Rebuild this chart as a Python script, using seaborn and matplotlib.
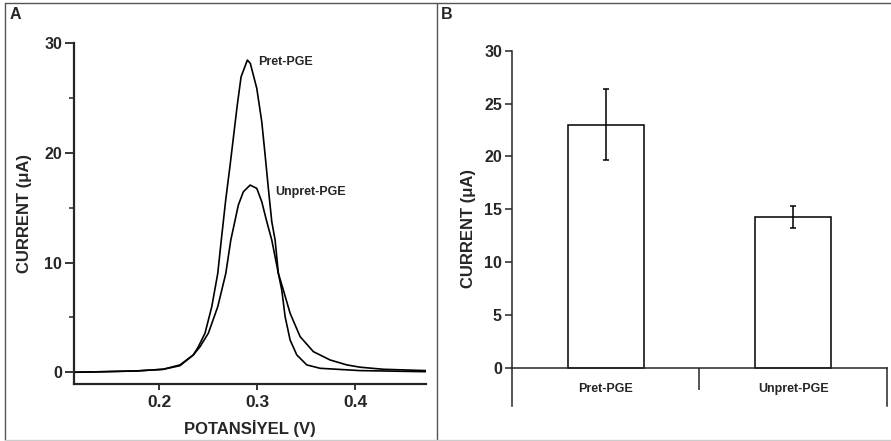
import matplotlib
matplotlib.use("Agg")
import pandas as pd
import seaborn as sns
import matplotlib.pyplot as plt
from matplotlib.lines import Line2D

# Panel A: DPV curves
pret_x = [0.113, 0.143, 0.177, 0.204, 0.2211, 0.2347, 0.2398, 0.2466, 0.2535, 0.2596, 0.2632,
          0.2677, 0.2722, 0.2795, 0.2834, 0.2898, 0.2928, 0.2994, 0.3045, 0.3079, 0.3112, 0.3147,
          0.3181, 0.3214, 0.3249, 0.3283, 0.3334, 0.3402, 0.3504, 0.364, 0.4048, 0.472]
pret_y = [0.0, 0.05, 0.12, 0.27, 0.67, 1.58, 2.33, 3.56, 5.98, 9.02, 12.06,
          15.71, 18.9, 24.37, 26.95, 28.47, 28.17, 25.89, 22.84, 19.81, 16.77, 13.73,
          12.06, 9.02, 7.5, 5.07, 2.94, 1.58, 0.67, 0.36, 0.15, 0.05]
unpret_x = [0.113, 0.143, 0.177, 0.204, 0.2211, 0.2347, 0.2415, 0.25, 0.2596, 0.2678, 0.2729,
            0.2755, 0.2806, 0.2857, 0.2926, 0.2994, 0.3045, 0.3096, 0.3147, 0.3214, 0.3265,
            0.3334, 0.3436, 0.3571, 0.3742, 0.3912, 0.4048, 0.4286, 0.472]
unpret_y = [0.0, 0.05, 0.12, 0.27, 0.6, 1.58, 2.33, 3.56, 5.98, 9.02, 12.06,
            13.13, 15.25, 16.46, 17.07, 16.77, 15.55, 13.73, 12.06, 9.02, 7.5,
            5.38, 3.25, 1.88, 1.12, 0.67, 0.46, 0.27, 0.15]

# Panel B: mean peak currents with error bars
electrodes = ["Pret-PGE", "Unpret-PGE"]
mean_current = [23.0, 14.25]
err_current = [3.35, 1.05]

curves = pd.concat([
    pd.DataFrame({"potential": pret_x, "current": pret_y, "electrode": "Pret-PGE"}),
    pd.DataFrame({"potential": unpret_x, "current": unpret_y, "electrode": "Unpret-PGE"}),
])

sns.set_style("ticks")
plt.rcParams["font.family"] = ["Liberation Sans", "DejaVu Sans"]
plt.rcParams["font.weight"] = "bold"
plt.rcParams["axes.labelweight"] = "bold"

fig = plt.figure(figsize=(8.91, 4.41), dpi=100)
axA = fig.add_axes([0.0831, 0.1293, 0.395, 0.7725])
axB = fig.add_axes([0.5743, 0.0794, 0.4212, 0.8056])

# ---- Panel A
sns.lineplot(data=curves, x="potential", y="current", hue="electrode",
             palette=["black", "black"], linewidth=1.2, legend=False, ax=axA)
axA.set_xlim(0.113, 0.472)
axA.set_ylim(-1.07, 30)
axA.set_xticks([0.2, 0.3, 0.4])
axA.set_yticks([0, 10, 20, 30])
axA.set_yticks([5, 15, 25], minor=True)
axA.set_xlabel("POTANSİYEL (V)", fontsize=12, labelpad=7)
axA.set_ylabel("CURRENT (μA)", fontsize=12, labelpad=9)
axA.tick_params(axis="y", which="major", length=6.5, width=1.3, labelsize=11.5, pad=2)
axA.tick_params(axis="y", which="minor", length=3.5, width=1.1)
axA.tick_params(axis="x", length=4, width=1.3, labelsize=12.5, pad=4)
for s in ["top", "right"]:
    axA.spines[s].set_visible(False)
for s in ["left", "bottom"]:
    axA.spines[s].set_linewidth(1.6)
axA.text(0.301, 28.3, "Pret-PGE", fontsize=9, va="center")
axA.text(0.318, 16.46, "Unpret-PGE", fontsize=9, va="center")

# ---- Panel B
sns.barplot(x=electrodes, y=mean_current, width=0.405, color="white", saturation=1,
            edgecolor="black", linewidth=1.1, errorbar=None, ax=axB)
axB.errorbar(range(len(electrodes)), mean_current, yerr=err_current, fmt="none",
             ecolor="black", elinewidth=1.1, capsize=2.5, capthick=1.1)
axB.set_xlim(-0.5, 1.5)
axB.set_ylim(-3.6, 30)
axB.set_yticks(range(0, 31, 5))
axB.set_ylabel("CURRENT (μA)", fontsize=12, labelpad=6)
axB.spines["top"].set_visible(False)
axB.spines["bottom"].set_position(("data", 0))
axB.spines["right"].set_bounds(-3.6, 0)
for s in ["left", "bottom", "right"]:
    axB.spines[s].set_linewidth(1.1)
axB.set_xticks([0.5], minor=True)
axB.tick_params(axis="x", which="major", length=0, labelsize=9, pad=11)
axB.tick_params(axis="x", which="minor", length=16, width=1.1)
axB.tick_params(axis="y", length=5, width=1.1, labelsize=11.5, pad=2)

# panel letters and frame
fig.text(0.0112, 0.966, "A", fontsize=11.5, va="center")
fig.text(0.4950, 0.966, "B", fontsize=11.5, va="center")
fig.add_artist(Line2D([0.0056, 1.0], [0.993, 0.993], color="#555555", lw=1))
fig.add_artist(Line2D([0.0056, 0.0056], [0.0023, 0.993], color="#555555", lw=1))
fig.add_artist(Line2D([0.4905, 0.4905], [0.0023, 0.993], color="#555555", lw=1))
fig.add_artist(Line2D([0.0056, 1.0], [0.0023, 0.0023], color="#cccccc", lw=1))

plt.savefig("out.png", dpi=100)
